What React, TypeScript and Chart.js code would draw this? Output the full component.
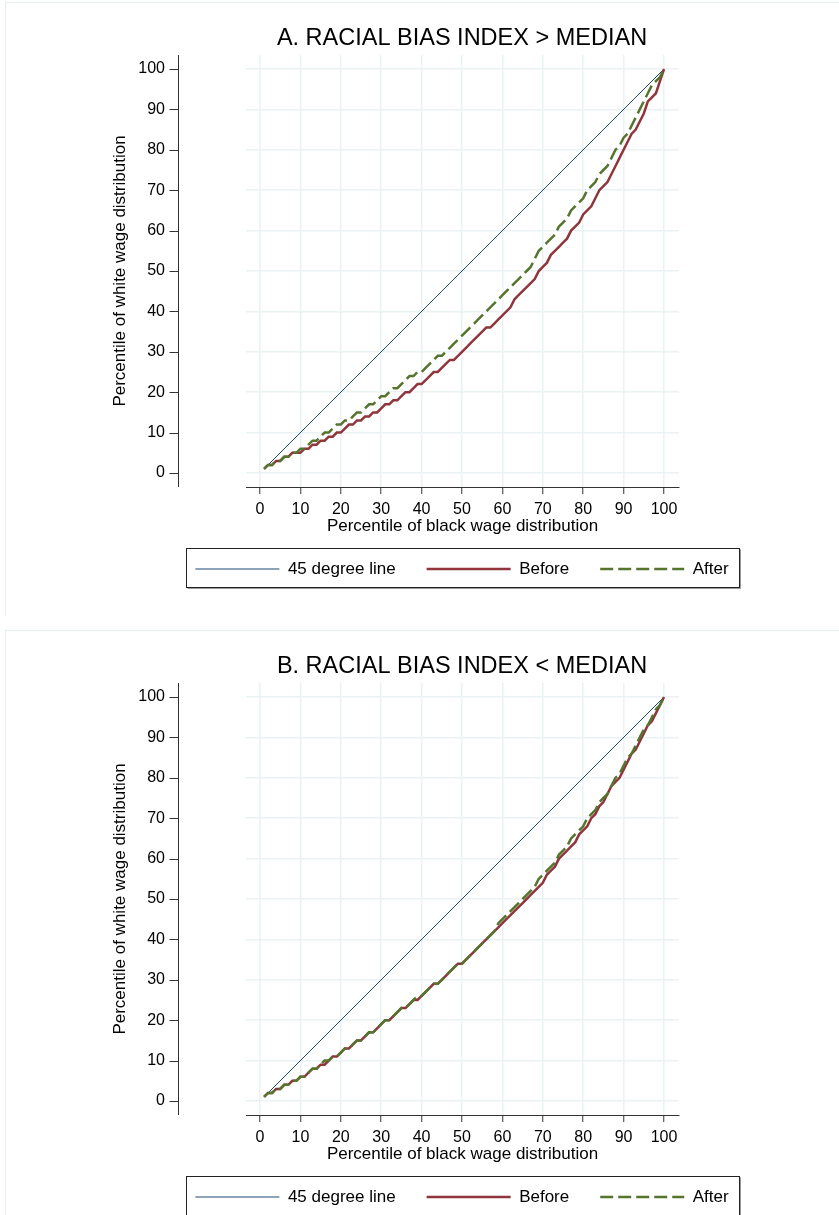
import React, { useEffect, useRef } from 'react';
import { Chart, registerables } from 'chart.js';

Chart.register(...registerables);

// ---------- data ----------
const pct = [
  1, 2, 3, 4, 5, 6, 7, 8, 9, 10, 11, 12, 13, 14, 15, 16, 17, 18, 19, 20,
  21, 22, 23, 24, 25, 26, 27, 28, 29, 30, 31, 32, 33, 34, 35, 36, 37, 38, 39, 40,
  41, 42, 43, 44, 45, 46, 47, 48, 49, 50, 51, 52, 53, 54, 55, 56, 57, 58, 59, 60,
  61, 62, 63, 64, 65, 66, 67, 68, 69, 70, 71, 72, 73, 74, 75, 76, 77, 78, 79, 80,
  81, 82, 83, 84, 85, 86, 87, 88, 89, 90, 91, 92, 93, 94, 95, 96, 97, 98, 99, 100,
];

const diagX = [1, 100];
const diagY = [1, 100];

const beforeA = [
  1, 2, 2, 3, 3, 4, 4, 5, 5, 5, 6, 6, 7, 7, 8, 8, 9, 9, 10, 10,
  11, 12, 12, 13, 13, 14, 14, 15, 15, 16, 17, 17, 18, 18, 19, 20, 20, 21, 22, 22,
  23, 24, 25, 25, 26, 27, 28, 28, 29, 30, 31, 32, 33, 34, 35, 36, 36, 37, 38, 39,
  40, 41, 43, 44, 45, 46, 47, 48, 50, 51, 52, 54, 55, 56, 57, 58, 60, 61, 62, 64,
  65, 66, 68, 70, 71, 72, 74, 76, 78, 80, 82, 84, 85, 87, 89, 92, 93, 94, 97, 100,
];

const afterA = [
  1, 2, 2, 3, 3, 4, 4, 5, 5, 6, 6, 7, 8, 8, 9, 10, 10, 11, 12, 12,
  13, 13, 14, 15, 15, 16, 17, 17, 18, 19, 19, 20, 21, 21, 22, 23, 24, 24, 25, 25,
  26, 27, 28, 29, 29, 30, 31, 32, 33, 34, 35, 36, 37, 38, 39, 40, 41, 42, 43, 44,
  45, 46, 47, 48, 49, 50, 51, 53, 55, 56, 57, 58, 59, 61, 62, 63, 65, 66, 67, 68,
  70, 71, 72, 74, 75, 76, 78, 80, 81, 83, 84, 86, 88, 90, 92, 94, 96, 97, 98, 100,
];

const beforeB = [
  1, 2, 2, 3, 3, 4, 4, 5, 5, 6, 6, 7, 8, 8, 9, 9, 10, 11, 11, 12,
  13, 13, 14, 15, 15, 16, 17, 17, 18, 19, 20, 20, 21, 22, 23, 23, 24, 25, 25, 26,
  27, 28, 29, 29, 30, 31, 32, 33, 34, 34, 35, 36, 37, 38, 39, 40, 41, 42, 43, 44,
  45, 46, 47, 48, 49, 50, 51, 52, 53, 54, 56, 57, 58, 60, 61, 62, 63, 64, 66, 67,
  68, 70, 71, 73, 74, 76, 78, 79, 80, 82, 84, 86, 87, 89, 91, 93, 94, 96, 98, 100,
];

const afterB = [
  1, 2, 2, 3, 3, 4, 4, 5, 5, 6, 6, 7, 8, 8, 9, 10, 10, 11, 11, 12,
  13, 13, 14, 15, 15, 16, 17, 17, 18, 19, 20, 20, 21, 22, 23, 23, 24, 25, 26, 26,
  27, 28, 29, 29, 30, 31, 32, 33, 34, 34, 35, 36, 37, 38, 39, 40, 41, 42, 44, 45,
  46, 47, 48, 49, 50, 51, 52, 53, 55, 56, 57, 58, 59, 61, 62, 63, 65, 66, 67, 68,
  70, 71, 72, 74, 75, 76, 78, 80, 81, 83, 85, 86, 88, 90, 92, 93, 95, 97, 98, 100,
];

const xTicks = [0, 10, 20, 30, 40, 50, 60, 70, 80, 90, 100];
const yTicks = [0, 10, 20, 30, 40, 50, 60, 70, 80, 90, 100];

const titleA = 'A. RACIAL BIAS INDEX > MEDIAN';
const titleB = 'B. RACIAL BIAS INDEX < MEDIAN';
const legendLabels = ['45 degree line', 'Before', 'After'];
const xTitle = 'Percentile of black wage distribution';
const yTitle = 'Percentile of white wage distribution';

// ---------- style ----------
const W = 839;
const H = 628;
const FONT = '"Liberation Sans", Arial, Helvetica, sans-serif';
const GRID = '#eaf2f3';
const AXIS = '#333333';
const FRAME = '#e6eeef';
const NAVY = '#1a476f';
const MAROON = '#90353b';
const GREEN = '#55752f';

const X_MIN = -3.465;
const X_MAX = 103.71;
const Y_MIN = -3.465;
const Y_MAX = 103.465;

const decorPlugin = {
  id: 'stataDecor',
  afterDraw(chart: any) {
    const ctx = chart.ctx;
    const area = chart.chartArea;
    const yScale = chart.scales.y;
    ctx.save();
    // faint graph-region frame
    ctx.strokeStyle = FRAME;
    ctx.lineWidth = 1;
    ctx.beginPath();
    ctx.moveTo(5, 2.5);
    ctx.lineTo(chart.width, 2.5);
    ctx.moveTo(5.5, 2);
    ctx.lineTo(5.5, 616);
    ctx.stroke();

    // detached y axis
    const ax = Math.round(area.left - 68) + 0.5;
    ctx.strokeStyle = AXIS;
    ctx.lineWidth = 1;
    ctx.beginPath();
    ctx.moveTo(ax, area.top);
    ctx.lineTo(ax, area.bottom);
    yTicks.forEach((v) => {
      const py = Math.round(yScale.getPixelForValue(v)) + 0.5;
      ctx.moveTo(ax - 9, py);
      ctx.lineTo(ax, py);
    });
    ctx.stroke();

    // legend frame
    const lg = chart.legend;
    if (lg && lg.legendHitBoxes && lg.legendHitBoxes.length) {
      const hb = lg.legendHitBoxes;
      let l = Infinity;
      let r = -Infinity;
      hb.forEach((b: any) => {
        l = Math.min(l, b.left);
        r = Math.max(r, b.left + b.width);
      });
      const bl = Math.round(l - 9) + 0.5;
      const br = Math.round(r + 10) + 0.5;
      const bt = Math.round(lg.top + 18.5) + 0.5;
      const bb = Math.round(lg.bottom - 1) + 0.5;
      ctx.strokeStyle = '#222222';
      ctx.lineWidth = 1;
      ctx.strokeRect(bl, bt, br - bl, bb - bt);
      ctx.strokeStyle = '#9a9a9a';
      ctx.beginPath();
      ctx.moveTo(bl + 1, bb + 1);
      ctx.lineTo(br + 1, bb + 1);
      ctx.moveTo(br + 1, bt + 1);
      ctx.lineTo(br + 1, bb + 1);
      ctx.stroke();
    }
    ctx.restore();
  },
};

function Panel({ title, before, after }: { title: string; before: number[]; after: number[] }) {
  const ref = useRef<HTMLCanvasElement | null>(null);

  useEffect(() => {
    if (!ref.current) return;
    const chart = new Chart(ref.current, {
      type: 'line',
      data: {
        datasets: [
          {
            label: legendLabels[0],
            data: diagX.map((x, i) => ({ x, y: diagY[i] })),
            borderColor: NAVY,
            backgroundColor: NAVY,
            borderWidth: 1,
            pointRadius: 0,
            tension: 0,
            order: 2,
          },
          {
            label: legendLabels[1],
            data: pct.map((x, i) => ({ x, y: before[i] })),
            borderColor: MAROON,
            backgroundColor: MAROON,
            borderWidth: 2.5,
            pointRadius: 0,
            tension: 0,
            order: 1,
          },
          {
            label: legendLabels[2],
            data: pct.map((x, i) => ({ x, y: after[i] })),
            borderColor: GREEN,
            backgroundColor: GREEN,
            borderWidth: 2.5,
            borderDash: [13, 5],
            pointRadius: 0,
            tension: 0,
            order: 0,
          },
        ],
      },
      options: {
        responsive: false,
        animation: false,
        devicePixelRatio: 1,
        events: [],
        layout: { padding: { left: 85, right: 0, top: 0, bottom: 40.5 } },
        plugins: {
          title: {
            display: true,
            text: title,
            color: '#000',
            font: { family: FONT, size: 23.5, weight: 'normal', lineHeight: 1.2 },
            padding: { top: 24.7, bottom: 2.1 },
          },
          legend: {
            position: 'bottom',
            align: 'center',
            labels: {
              usePointStyle: true,
              pointStyle: 'line',
              pointStyleWidth: 84,
              padding: 31,
              color: '#000',
              font: { family: FONT, size: 17 },
              generateLabels: (chart: any) => {
                const items = Chart.defaults.plugins.legend.labels.generateLabels(chart);
                return items
                  .map((it: any) => {
                    const ds = chart.data.datasets[it.datasetIndex];
                    return {
                      ...it,
                      pointStyle: 'line',
                      strokeStyle: ds.borderColor,
                      fillStyle: ds.borderColor,
                      lineWidth: ds.borderWidth,
                      lineDash: ds.borderDash || [],
                      fontColor: '#000',
                    };
                  })
                  .sort((a: any, b: any) => a.datasetIndex - b.datasetIndex);
              },
            },
          },
          tooltip: { enabled: false },
        },
        scales: {
          x: {
            type: 'linear',
            min: X_MIN,
            max: X_MAX,
            afterBuildTicks: (s: any) => {
              s.ticks = xTicks.map((v) => ({ value: v }));
            },
            afterFit: (s: any) => {
              s.height = 42.5;
            },
            grid: {
              color: GRID,
              lineWidth: 1.5,
              drawTicks: true,
              tickLength: 7,
              tickColor: AXIS,
              tickWidth: 1,
            },
            border: { display: true, color: AXIS, width: 1 },
            ticks: {
              padding: 6,
              color: '#000',
              font: { family: FONT, size: 16 },
              maxRotation: 0,
              autoSkip: false,
            },
            title: {
              display: true,
              text: xTitle,
              color: '#000',
              font: { family: FONT, size: 17 },
              padding: { top: 0, bottom: -6.7 },
            },
          },
          y: {
            type: 'linear',
            min: Y_MIN,
            max: Y_MAX,
            afterBuildTicks: (s: any) => {
              s.ticks = yTicks.map((v) => ({ value: v }));
            },
            afterFit: (s: any) => {
              s.width = 161;
              s.paddingTop = 0;
              s.paddingBottom = 0;
            },
            grid: { color: GRID, lineWidth: 1.5, drawTicks: false },
            border: { display: false },
            ticks: {
              padding: 81,
              color: '#000',
              font: { family: FONT, size: 16 },
              autoSkip: false,
            },
            title: {
              display: true,
              text: yTitle,
              color: '#000',
              font: { family: FONT, size: 17 },
              padding: { top: 24.8, bottom: 0 },
            },
          },
          yR: {
            type: 'linear',
            position: 'right',
            display: true,
            grid: { display: false },
            border: { display: false },
            ticks: { display: false },
            afterFit: (s: any) => {
              s.width = 160;
              s.paddingTop = 0;
              s.paddingBottom = 0;
            },
          },
        },
      } as any,
      plugins: [decorPlugin],
    });
    return () => chart.destroy();
  }, [title, before, after]);

  return <canvas ref={ref} width={W} height={H} style={{ display: 'block', width: W, height: H }} />;
}

export default function App() {
  useEffect(() => {
    document.body.style.margin = '0';
    document.body.style.background = '#ffffff';
  }, []);
  return (
    <div style={{ width: W, height: 1215, overflow: 'hidden', background: '#fff' }}>
      <Panel title={titleA} before={beforeA} after={afterA} />
      <Panel title={titleB} before={beforeB} after={afterB} />
    </div>
  );
}
